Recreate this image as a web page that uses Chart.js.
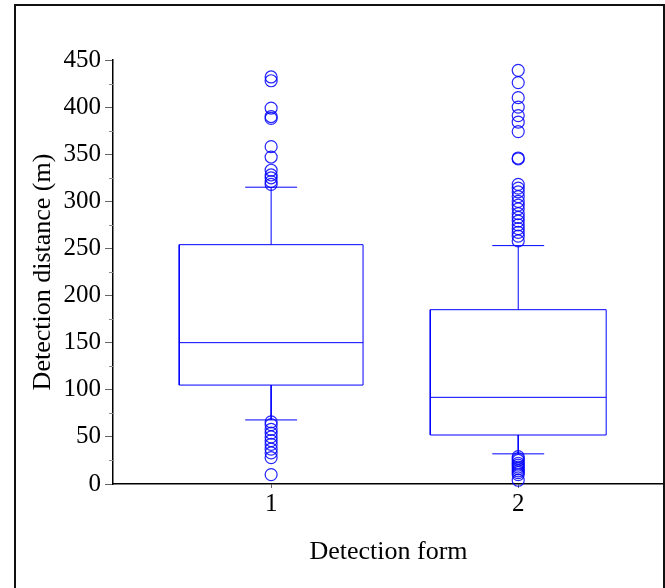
<!DOCTYPE html>
<html>
<head>
<meta charset="utf-8">
<script src="https://cdn.jsdelivr.net/npm/chart.js@4/dist/chart.umd.min.js"></script>
<style>
  html, body { margin: 0; padding: 0; background: #fff; }
  #wrap { width: 665px; height: 588px; }
</style>
</head>
<body>
<div id="wrap"><canvas id="grafico" width="665" height="588"></canvas></div>
<script>
// dados do boxplot
var categorias = [1, 2]
var quartil1 = [105, 52]
var medianas = [150, 92]
var quartil3 = [254, 185]
var bigodeInf = [68, 32]
var bigodeSup = [315, 253]
var outliers1 = [432, 428, 399, 390, 388, 358, 347, 333, 328, 325, 321, 318,
                 66, 63, 58, 54, 50, 46, 42, 37, 33, 28, 10]
var outliers2 = [439, 426, 410, 400, 391, 384, 374, 346, 345, 318, 314, 310, 305, 300, 296,
                 292, 287, 283, 279, 275, 271, 267, 263, 258,
                 29, 27, 25, 22, 20, 18, 16, 14, 12, 10, 4]
var ticksY = [0, 50, 100, 150, 200, 250, 300, 350, 400, 450]

var azul = 'rgb(0,0,255)'
var meiaCaixa = [0.372, 0.356]
var meioTraco = 0.105

function segmento(pontos){
    return {
        type: 'line',
        data: pontos,
        borderColor: azul,
        borderWidth: 1,
        pointRadius: 0,
        fill: false,
        tension: 0,
        clip: false
    }
}

var datasets = []
var listaOutliers = [outliers1, outliers2]

categorias.forEach(function(c, i){
    var w = meiaCaixa[i]
    // caixa
    datasets.push(segmento([
        {x: c - w, y: quartil1[i]},
        {x: c + w, y: quartil1[i]},
        {x: c + w, y: quartil3[i]},
        {x: c - w, y: quartil3[i]},
        {x: c - w, y: quartil1[i]}
    ]))
    // mediana
    datasets.push(segmento([{x: c - w, y: medianas[i]}, {x: c + w, y: medianas[i]}]))
    // bigodes
    datasets.push(segmento([{x: c, y: quartil3[i]}, {x: c, y: bigodeSup[i]}]))
    datasets.push(segmento([{x: c, y: quartil1[i]}, {x: c, y: bigodeInf[i]}]))
    datasets.push(segmento([{x: c - meioTraco, y: bigodeSup[i]}, {x: c + meioTraco, y: bigodeSup[i]}]))
    datasets.push(segmento([{x: c - meioTraco, y: bigodeInf[i]}, {x: c + meioTraco, y: bigodeInf[i]}]))
    // outliers
    datasets.push({
        type: 'scatter',
        data: listaOutliers[i].map(function(v){ return {x: c, y: v} }),
        pointStyle: 'circle',
        pointRadius: 6,
        pointBorderColor: 'rgba(0,0,255,0.85)',
        pointBackgroundColor: 'rgba(0,0,0,0)',
        pointBorderWidth: 1.2,
        clip: false
    })
})

var moldura = {
    id: 'moldura',
    afterDraw: function(chart){
        var c = chart.ctx
        c.save()
        c.strokeStyle = '#111'
        c.lineWidth = 2
        c.beginPath()
        c.moveTo(15, 588)
        c.lineTo(15, 5)
        c.lineTo(664, 5)
        c.lineTo(664, 588)
        c.stroke()
        // ticks menores do eixo y
        var y = chart.scales.y
        c.strokeStyle = '#888'
        c.lineWidth = 1
        for (var i = 0; i < ticksY.length - 1; i++) {
            var py = Math.round(y.getPixelForValue((ticksY[i] + ticksY[i + 1]) / 2)) + 0.5
            c.beginPath()
            c.moveTo(y.right - 4, py)
            c.lineTo(y.right, py)
            c.stroke()
        }
        c.restore()
    }
}

var familia = '"Liberation Serif", "Times New Roman", serif'
var fonteTicks = {family: familia, size: 25}
var fonteTitulo = {family: familia, size: 26}

var chart = new Chart(document.getElementById('grafico').getContext('2d'), {
    data: {datasets: datasets},
    plugins: [moldura],
    options: {
        responsive: false,
        animation: false,
        layout: {autoPadding: false, padding: {top: 60, right: 1, left: 0, bottom: 0}},
        plugins: {legend: {display: false}, tooltip: {enabled: false}},
        scales: {
            x: {
                type: 'linear',
                min: 0.36,
                max: 2.59,
                afterBuildTicks: function(s){ s.ticks = categorias.map(function(v){ return {value: v} }) },
                afterFit: function(s){ s.height = 104; s.paddingLeft = 0; s.paddingRight = 0 },
                border: {color: '#000', width: 1.5},
                grid: {drawOnChartArea: false, tickLength: 4, color: '#666'},
                ticks: {font: fonteTicks, color: '#000', padding: 1},
                title: {display: true, text: 'Detection form', font: fonteTitulo, color: '#000', padding: {top: 0, bottom: 20}}
            },
            y: {
                min: 0,
                max: 450,
                afterBuildTicks: function(s){ s.ticks = ticksY.map(function(v){ return {value: v} }) },
                afterFit: function(s){ s.width = 113; s.paddingTop = 0; s.paddingBottom = 0 },
                border: {color: '#000', width: 1.5},
                grid: {drawOnChartArea: false, tickLength: 8, color: '#666'},
                ticks: {font: fonteTicks, color: '#000', padding: 4},
                title: {display: true, text: 'Detection distance (m)', font: fonteTitulo, color: '#000', padding: {top: 28, bottom: 0}}
            }
        }
    }
})
</script>
</body>
</html>
